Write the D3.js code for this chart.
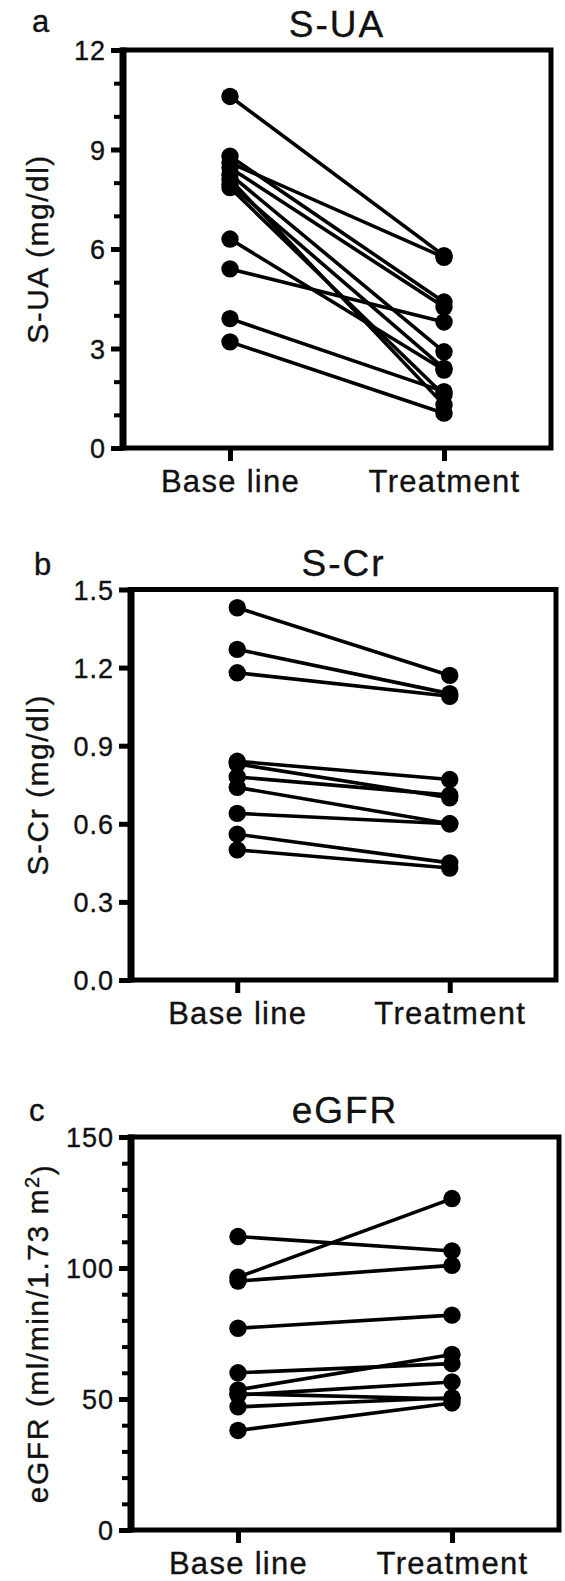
<!DOCTYPE html>
<html>
<head>
<meta charset="utf-8">
<script src="https://cdn.jsdelivr.net/npm/d3@7"></script>
<style>
  body { margin: 0; background: #fff; }
  text { font-family: "Liberation Sans", Arial, sans-serif; fill: #111; stroke: #111; stroke-width: 0.35px; }
</style>
</head>
<body>
<div class="chart"></div>
<script>
var width = 565,
    height = 1581;

// groups on the x axis
var groups = ["Base line", "Treatment"];

// a: serum uric acid (mg/dl)
var suaBase  = [10.6, 8.8, 8.6, 8.45, 8.25, 8.1, 7.95, 7.85, 6.3, 5.4, 3.9, 3.2];
var suaTreat = [5.8, 4.4, 5.75, 4.25, 2.9, 1.3, 2.4, 1.6, 2.35, 3.8, 1.7, 1.05];
var suaTicks = [0, 3, 6, 9, 12];
var suaMinor = [1, 2, 4, 5, 7, 8, 10, 11];

// b: serum creatinine (mg/dl)
var scrBase  = [1.43, 1.27, 1.18, 0.84, 0.83, 0.78, 0.74, 0.64, 0.56, 0.50];
var scrTreat = [1.17, 1.10, 1.09, 0.77, 0.70, 0.71, 0.60, 0.60, 0.45, 0.43];
var scrTicks = [0, 0.3, 0.6, 0.9, 1.2, 1.5];

// c: eGFR (ml/min/1.73 m2)
var egfrBase  = [112, 96.5, 95, 77, 60, 53.5, 52, 51.5, 47, 38];
var egfrTreat = [106.5, 126.5, 101, 82, 63.5, 67, 50, 56.5, 50.5, 48.5];
var egfrTicks = [0, 50, 100, 150];
var egfrMinor = [10, 20, 30, 40, 60, 70, 80, 90, 110, 120, 130, 140];

var svg = d3.select(".chart")
    .append("svg")
    .attr("width", width)
    .attr("height", height);

function panel(p) {
  var g = svg.append("g");

  var x = d3.scalePoint()
      .domain(groups)
      .range([p.left, p.right])
      .padding(0.5);

  var y = d3.scaleLinear()
      .domain([0, p.ticks[p.ticks.length - 1]])
      .range([p.bottom, p.top]);

  // minor ticks
  if (p.minor) {
    g.append("g")
        .attr("transform", "translate(" + p.left + ",0)")
        .call(d3.axisLeft(y).tickValues(p.minor).tickSize(9).tickFormat(""))
        .call(function(a) { a.select(".domain").remove(); })
        .selectAll("line")
        .attr("stroke", "#000")
        .attr("stroke-width", 4);
  }

  // major ticks + labels
  var ya = g.append("g")
      .attr("transform", "translate(" + p.left + ",0)")
      .call(d3.axisLeft(y).tickValues(p.ticks).tickSize(12).tickPadding(5).tickFormat(p.fmt));
  ya.select(".domain").remove();
  ya.selectAll("line").attr("stroke", "#000").attr("stroke-width", 5);
  ya.selectAll("text")
      .attr("fill", "#111")
      .style("font-size", "27px")
      .style("letter-spacing", "1px")
      .attr("dy", "0.36em");

  var xa = g.append("g")
      .attr("transform", "translate(0," + p.bottom + ")")
      .call(d3.axisBottom(x).tickSize(13).tickPadding(9));
  xa.select(".domain").remove();
  xa.selectAll("line").attr("stroke", "#000").attr("stroke-width", 5);
  xa.selectAll("text")
      .attr("fill", "#111")
      .style("font-size", "31px")
      .style("letter-spacing", "1.3px");

  // frame
  g.append("rect")
      .attr("x", p.left)
      .attr("y", p.top)
      .attr("width", p.right - p.left)
      .attr("height", p.bottom - p.top)
      .attr("fill", "none")
      .attr("stroke", "#000")
      .attr("stroke-width", 5);
  g.append("line")
      .attr("x1", p.left).attr("x2", p.left)
      .attr("y1", p.top - 2.5).attr("y2", p.bottom + 2.5)
      .attr("stroke", "#000")
      .attr("stroke-width", 7);

  // paired lines
  g.append("g")
      .selectAll("line")
      .data(p.base)
      .enter()
      .append("line")
      .attr("x1", x(groups[0]))
      .attr("y1", function(d) { return y(d); })
      .attr("x2", x(groups[1]))
      .attr("y2", function(d, i) { return y(p.treat[i]); })
      .attr("stroke", "#000")
      .attr("stroke-width", 3.6);

  g.append("g")
      .selectAll("circle")
      .data(p.base.map(function(d) { return [groups[0], d]; })
        .concat(p.treat.map(function(d) { return [groups[1], d]; })))
      .enter()
      .append("circle")
      .attr("cx", function(d) { return x(d[0]); })
      .attr("cy", function(d) { return y(d[1]); })
      .attr("r", 8.7)
      .attr("fill", "#000");

  // panel letter, title
  g.append("text")
      .attr("x", p.letterX)
      .attr("y", p.letterY)
      .style("font-size", "31px")
      .text(p.letter);

  g.append("text")
      .attr("x", (p.left + p.right) / 2)
      .attr("y", p.titleY)
      .attr("text-anchor", "middle")
      .style("font-size", "37px")
      .style("letter-spacing", "2px")
      .text(p.title);

  // y axis label
  var yl = g.append("text")
      .attr("transform", "translate(" + p.ylabX + "," + ((p.top + p.bottom) / 2) + ") rotate(-90)")
      .attr("text-anchor", "middle")
      .style("font-size", "30px")
      .style("letter-spacing", "1.5px");
  p.ylabel(yl);
}

panel({
  base: suaBase, treat: suaTreat, ticks: suaTicks, minor: suaMinor,
  fmt: d3.format("d"),
  left: 123, right: 551, top: 50, bottom: 448,
  letter: "a", letterX: 32, letterY: 32,
  title: "S-UA", titleY: 37, ylabX: 48,
  ylabel: function(t) { t.text("S-UA (mg/dl)"); }
});

panel({
  base: scrBase, treat: scrTreat, ticks: scrTicks, minor: null,
  fmt: d3.format(".1f"),
  left: 131, right: 556, top: 589.5, bottom: 980,
  letter: "b", letterX: 34, letterY: 575,
  title: "S-Cr", titleY: 576, ylabX: 48,
  ylabel: function(t) { t.text("S-Cr (mg/dl)"); }
});

panel({
  base: egfrBase, treat: egfrTreat, ticks: egfrTicks, minor: egfrMinor,
  fmt: d3.format("d"),
  left: 131, right: 559, top: 1137, bottom: 1530,
  letter: "c", letterX: 29, letterY: 1121,
  title: "eGFR", titleY: 1123, ylabX: 48,
  ylabel: function(t) {
    t.append("tspan").text("eGFR (ml/min/1.73 m");
    t.append("tspan").attr("dy", "-0.45em").style("font-size", "20px").text("2");
    t.append("tspan").attr("dy", "0.45em").text(")");
  }
});
</script>
</body>
</html>
